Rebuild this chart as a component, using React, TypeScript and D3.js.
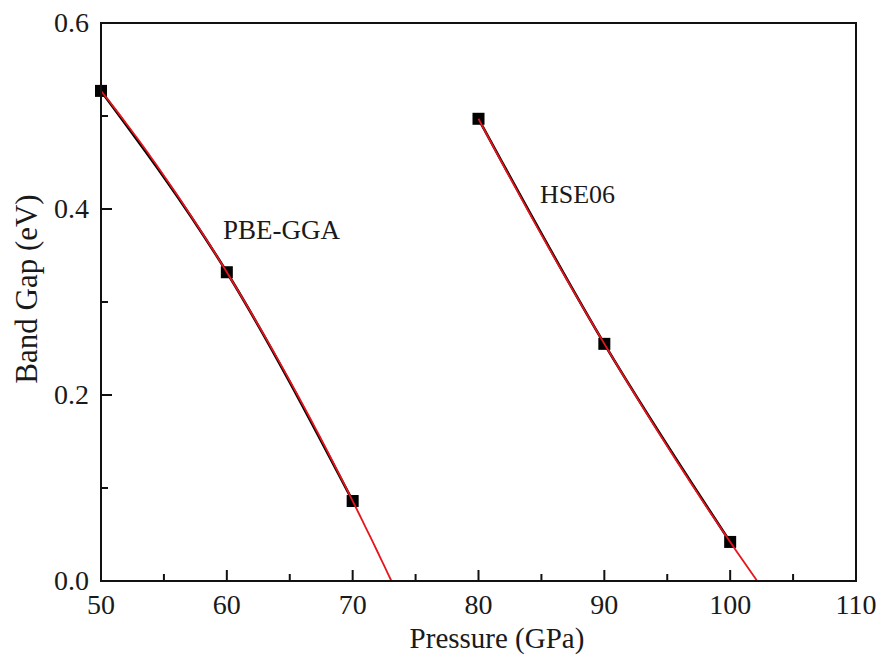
import React from "react";
import * as d3 from "d3";

const pbePressure = [50, 60, 70];
const pbeGap = [0.527, 0.332, 0.086];
const hsePressure = [80, 90, 100];
const hseGap = [0.497, 0.255, 0.042];
const xTicks = [50, 60, 70, 80, 90, 100, 110];
const yTicks = [0.0, 0.2, 0.4, 0.6];

const W = 882;
const H = 657;
const M = { left: 101, right: 856, top: 23, bottom: 581 };
const FONT = "Liberation Serif, Times New Roman, DejaVu Serif, serif";

// 2nd-order polynomial fit (through the three data points)
function quadFit(xs: number[], ys: number[]) {
  const [x0, x1, x2] = xs;
  const [y0, y1, y2] = ys;
  return (x: number) =>
    y0 * ((x - x1) * (x - x2)) / ((x0 - x1) * (x0 - x2)) +
    y1 * ((x - x0) * (x - x2)) / ((x1 - x0) * (x1 - x2)) +
    y2 * ((x - x0) * (x - x1)) / ((x2 - x0) * (x2 - x1));
}
function rootAfter(f: (x: number) => number, start: number) {
  let a = start, b = start + 40;
  for (let i = 0; i < 60; i++) {
    const m = (a + b) / 2;
    if (f(m) > 0) a = m; else b = m;
  }
  return (a + b) / 2;
}

export default function App() {
  const x = d3.scaleLinear().domain([50, 110]).range([M.left, M.right]);
  const y = d3.scaleLinear().domain([0, 0.6]).range([M.bottom, M.top]);

  const series = [
    { xs: pbePressure, ys: pbeGap },
    { xs: hsePressure, ys: hseGap },
  ];

  const smooth = d3
    .line<[number, number]>()
    .x((d) => x(d[0]))
    .y((d) => y(d[1]))
    .curve(d3.curveNatural);

  const fits = series.map((s) => {
    const f = quadFit(s.xs, s.ys);
    const end = rootAfter(f, s.xs[s.xs.length - 1]);
    const n = 80;
    const px = d3.range(n + 1).map((i) => s.xs[0] + ((end - s.xs[0]) * i) / n);
    return d3
      .line<number>()
      .x((p) => x(p))
      .y((p) => y(Math.max(0, f(p))))(px);
  });

  const xMinor = d3.range(55, 110, 10);
  const yMinor = [0.1, 0.3, 0.5];
  const txt = { fontFamily: FONT, fill: "#1a1a1a" } as React.CSSProperties;

  return (
    <svg
      width={W}
      height={H}
      style={{ position: "absolute", left: 0, top: 0, background: "#fff" }}
    >
      <rect x={0} y={0} width={W} height={H} fill="#fff" />
      {xTicks.map((t) => (
        <line key={"xt" + t} x1={x(t)} x2={x(t)} y1={M.bottom} y2={M.bottom - 11} stroke="#111" strokeWidth={2} />
      ))}
      {xMinor.map((t) => (
        <line key={"xm" + t} x1={x(t)} x2={x(t)} y1={M.bottom} y2={M.bottom - 7} stroke="#111" strokeWidth={2} />
      ))}
      {yTicks.map((t) => (
        <line key={"yt" + t} x1={M.left} x2={M.left + 11} y1={y(t)} y2={y(t)} stroke="#111" strokeWidth={2} />
      ))}
      {yMinor.map((t) => (
        <line key={"ym" + t} x1={M.left} x2={M.left + 7} y1={y(t)} y2={y(t)} stroke="#111" strokeWidth={2} />
      ))}
      {xTicks.map((t) => (
        <text key={"xl" + t} x={x(t)} y={614} textAnchor="middle" fontSize={28} style={txt}>
          {t}
        </text>
      ))}
      {yTicks.map((t) => (
        <text key={"yl" + t} x={89} y={y(t) + 9} textAnchor="end" fontSize={28} style={txt}>
          {d3.format(".1f")(t)}
        </text>
      ))}
      <text x={497} y={648} textAnchor="middle" fontSize={29} style={txt}>
        Pressure (GPa)
      </text>
      <text transform={`translate(37,289) rotate(-90)`} textAnchor="middle" fontSize={31} style={txt}>
        Band Gap (eV)
      </text>
      {series.map((s, i) => (
        <g key={"s" + i}>
          {s.xs.map((v, j) => (
            <rect key={j} x={x(v) - 6} y={y(s.ys[j]) - 6} width={12} height={12} fill="#000" />
          ))}
          <path
            d={smooth(s.xs.map((v, j) => [v, s.ys[j]] as [number, number])) || ""}
            fill="none"
            stroke="#000"
            strokeWidth={2.6}
          />
          <path d={fits[i] || ""} fill="none" stroke="#e8141c" strokeWidth={1.8} />
        </g>
      ))}
      <text x={223} y={239} fontSize={27} style={txt}>
        PBE-GGA
      </text>
      <text x={540} y={203} fontSize={26} style={txt}>
        HSE06
      </text>
      <rect x={M.left} y={M.top} width={M.right - M.left} height={M.bottom - M.top} fill="none" stroke="#111" strokeWidth={2} />
    </svg>
  );
}
